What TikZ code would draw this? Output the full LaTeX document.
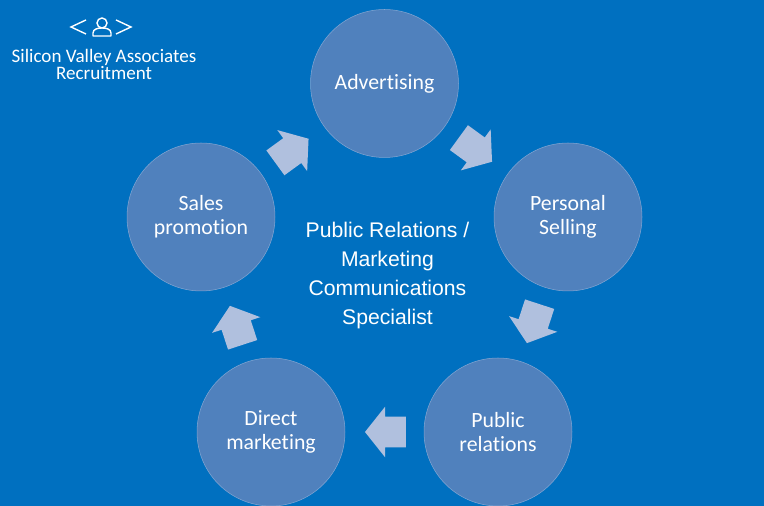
\documentclass[tikz,border=0pt]{standalone}
\usepackage{fontspec}
\setmainfont[Ligatures=NoCommon]{Carlito}
\newfontfamily\arialfont{Liberation Sans}
\usetikzlibrary{shapes.arrows}

\definecolor{pagebg}{RGB}{0,112,192}
\definecolor{circlefill}{RGB}{80,129,189}
\definecolor{circleedge}{RGB}{130,165,210}
\definecolor{arrowfill}{RGB}{176,192,222}

\tikzset{
  topic/.style={draw=circleedge,line width=0.3pt,circle,fill=circlefill,text=white,
    minimum size=2.96cm,inner sep=0pt,align=center,
    font=\fontsize{12.4}{13.7}\selectfont},
  blockarrow/.style={single arrow,fill=arrowfill,minimum height=0.82cm,minimum width=1.0cm,
    single arrow head extend=0.2cm,single arrow tip angle=103,inner xsep=0pt,inner ysep=0.3cm,
    pos=0.41,sloped,allow upside down},
  logoline/.style={draw=white,line width=0.8pt}
}

\begin{document}
\begin{tikzpicture}[x=0.02cm,y=0.02cm]
  \fill[pagebg] (0,0) rectangle (764,506);
  \useasboundingbox (0,0) rectangle (764,506);

  \node[topic] (advertising) at (384.5,422.5) {Advertising};
  \node[topic] (selling) at (568,289) {Personal\\Selling};
  \node[topic] (relations) at (498,74) {Public\\relations};
  \node[topic] (direct) at (271,74) {Direct\\marketing};
  \node[topic] (sales) at (201,289) {Sales\\promotion};

  \path (advertising) -- (selling) node[blockarrow] (arrowa) {};
  \path (selling) -- (relations) node[blockarrow] (arrowb) {};
  \path (relations) -- (direct) node[blockarrow] (arrowc) {};
  \path (direct) -- (sales) node[blockarrow] (arrowd) {};
  \path (sales) -- (advertising) node[blockarrow] (arrowe) {};

  \node[text=white,align=center,font=\arialfont\fontsize{12.05}{16.5}\selectfont] (centre) at (387.5,230.5)
    {Public Relations /\\Marketing\\Communications\\Specialist};

  % logo
  \draw[logoline] (86,486) -- (71,479) -- (86,472);
  \draw[logoline] (116,486) -- (131,479) -- (116,472);
  \draw[logoline] (102,483) circle (5);
  \draw[logoline,line join=round] (93,470) -- (111,470) -- (111,473)
    .. controls (111,477) and (106,478) .. (102,478)
    .. controls (98,478) and (93,477) .. (93,473) -- cycle;
  \node[text=white,align=center,font=\fontsize{10.85}{9.7}\selectfont] (company) at (104,441.5)
    {Silicon Valley Associates\\Recruitment};
\end{tikzpicture}
\end{document}
